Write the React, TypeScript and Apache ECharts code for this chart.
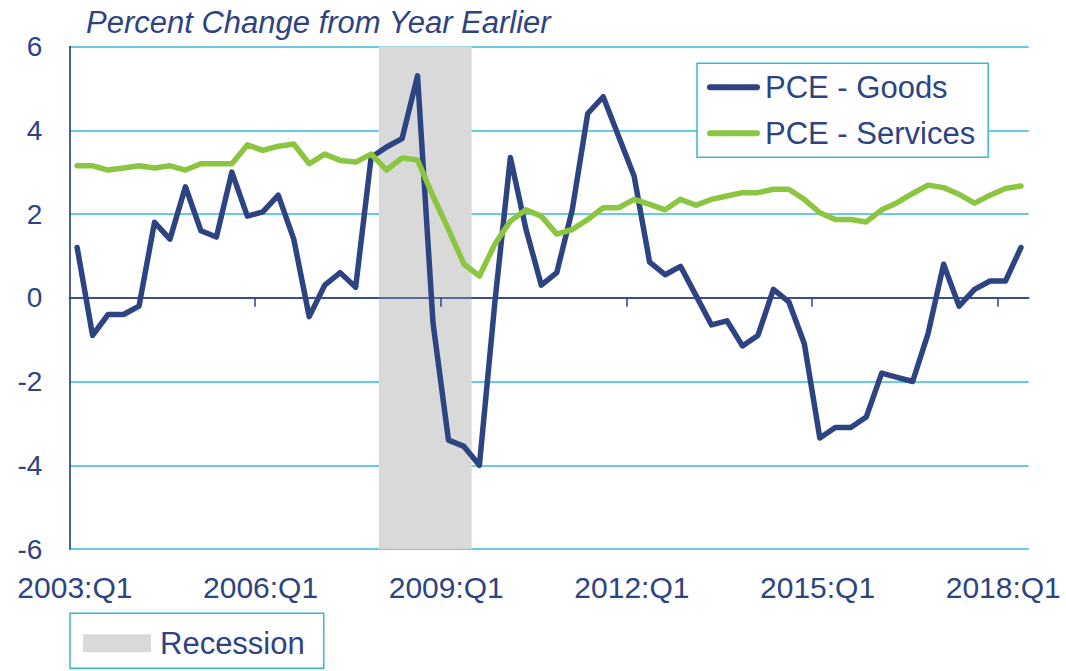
import React, { useEffect, useRef } from "react";
import * as echarts from "echarts";

// ---- Data ----
const quarterLabels: string[] = [];
for (let y = 2003; y <= 2018; y++) {
  for (let q = 1; q <= 4; q++) quarterLabels.push(`${y}:Q${q}`);
}
quarterLabels.length = 62; // 2003:Q1 .. 2018:Q2

const tickLabels = ["2003:Q1", "2006:Q1", "2009:Q1", "2012:Q1", "2015:Q1", "2018:Q1"];

const goodsValues = [
  1.2, -0.9, -0.4, -0.4, -0.2, 1.8, 1.4, 2.65, 1.6, 1.45,
  3.0, 1.95, 2.05, 2.45, 1.4, -0.45, 0.3, 0.6, 0.25, 3.35,
  3.6, 3.8, 5.3, -0.6, -3.4, -3.55, -4.0, -0.1, 3.35, 1.65,
  0.3, 0.6, 2.1, 4.4, 4.8, 3.85, 2.9, 0.85, 0.55, 0.75,
  0.05, -0.65, -0.55, -1.15, -0.9, 0.2, -0.1, -1.1, -3.35, -3.1,
  -3.1, -2.85, -1.8, -1.9, -2.0, -0.85, 0.8, -0.2, 0.2, 0.4,
  0.4, 1.2,
];

const servicesValues = [
  3.15, 3.15, 3.05, 3.1, 3.15, 3.1, 3.15, 3.05, 3.2, 3.2,
  3.2, 3.65, 3.52, 3.62, 3.67, 3.2, 3.43, 3.28, 3.24, 3.43,
  3.05, 3.34, 3.29, 2.43, 1.63, 0.8, 0.52, 1.28, 1.83, 2.1,
  1.95, 1.52, 1.63, 1.87, 2.15, 2.15, 2.35, 2.23, 2.1, 2.35,
  2.21, 2.35, 2.43, 2.51, 2.51, 2.59, 2.59, 2.35, 2.03, 1.87,
  1.87, 1.81, 2.1, 2.27, 2.49, 2.69, 2.63, 2.47, 2.26, 2.45,
  2.61, 2.67,
];

const recessionStart = "2008:Q1";
const recessionEnd = "2009:Q2";

const seriesNames = ["PCE - Goods", "PCE - Services", "Recession"];
const yTicks = [-6, -4, -2, 0, 2, 4, 6];

// ---- Styles ----
const NAVY = "#2E4482";
const GREEN = "#8CC540";
const TEAL = "#38B8D8";
const GRAY = "#D9D9D9";
const FONT = "'Liberation Sans', Arial, sans-serif";

export default function App() {
  const ref = useRef<HTMLDivElement>(null);

  useEffect(() => {
    if (!ref.current) return;
    const chart = echarts.init(ref.current, undefined, { renderer: "svg" });
    const n = quarterLabels.length;
    const tickPos = tickLabels.map((l) => quarterLabels.indexOf(l));
    const recStart = quarterLabels.indexOf(recessionStart);
    const recEnd = quarterLabels.indexOf(recessionEnd) + 1;

    const toPoints = (vals: number[]) => vals.map((v, i) => [i + 0.5, v]);

    const capsule = "path://M3,0H50A3,3,0,0,1,50,6H3A3,3,0,0,1,3,0Z";

    chart.setOption({
      animation: false,
      textStyle: { fontFamily: FONT },
      title: {
        text: "Percent Change from Year Earlier",
        left: 86,
        top: 7,
        padding: 0,
        textStyle: {
          fontSize: 31,
          fontStyle: "italic",
          fontWeight: "normal",
          color: NAVY,
          fontFamily: FONT,
        },
      },
      grid: { left: 69.4, top: 46.5, width: 959.3, height: 502.5, containLabel: false },
      xAxis: [
        {
          type: "value",
          position: "bottom",
          min: 0,
          max: n,
          interval: 12,
          axisLine: { show: false, onZero: false },
          axisTick: { show: false },
          splitLine: { show: false },
          axisLabel: {
            customValues: tickPos,
            formatter: (v: number) => (tickPos.includes(v) ? quarterLabels[v] : ""),
            fontSize: 30,
            color: NAVY,
            margin: 23.5,
            padding: [0, 0, 0, 11],
            fontFamily: FONT,
          },
        },
        {
          type: "value",
          position: "bottom",
          min: 0,
          max: n,
          interval: 12,
          z: 2,
          axisLine: { show: true, onZero: true, lineStyle: { color: NAVY, width: 1.7 } },
          axisTick: {
            show: true,
            customValues: tickPos.filter((p) => p > 0),
            length: 9,
            lineStyle: { color: NAVY, width: 1.5 },
          },
          axisLabel: { show: false },
          splitLine: { show: false },
        },
      ],
      yAxis: {
        type: "value",
        min: yTicks[0],
        max: yTicks[yTicks.length - 1],
        interval: 2,
        axisLine: { show: true, lineStyle: { color: NAVY, width: 1.7 } },
        axisTick: { show: false },
        splitLine: {
          show: true,
          lineStyle: {
            color: yTicks.map((t) => (t === 0 ? NAVY : TEAL)),
            width: 1.5,
          },
        },
        axisLabel: { fontSize: 28, color: NAVY, margin: 27, fontFamily: FONT },
      },
      legend: [
        {
          data: [
            { name: seriesNames[0], icon: capsule },
            { name: seriesNames[1], icon: capsule },
          ],
          orient: "vertical",
          left: 697,
          top: 63.3,
          itemWidth: 53,
          itemHeight: 6,
          itemGap: 10,
          padding: [6, 13, 6, 10],
          borderColor: TEAL,
          borderWidth: 1.5,
          backgroundColor: "#ffffff",
          selectedMode: false,
          textStyle: { fontSize: 31, color: NAVY, lineHeight: 36, fontFamily: FONT },
        },
        {
          data: [{ name: seriesNames[2], icon: "rect", itemStyle: { color: GRAY } }],
          orient: "vertical",
          left: 70,
          top: 613.3,
          itemWidth: 68,
          itemHeight: 18,
          padding: [12, 19, 7, 13],
          borderColor: TEAL,
          borderWidth: 1.5,
          backgroundColor: "#ffffff",
          selectedMode: false,
          textStyle: {
            fontSize: 31,
            color: NAVY,
            lineHeight: 36,
            padding: [0, 0, 0, 4],
            fontFamily: FONT,
          },
        },
      ],
      series: [
        {
          name: seriesNames[2],
          type: "line",
          xAxisIndex: 0,
          data: [],
          color: GRAY,
          z: 1,
          silent: true,
          markArea: {
            silent: true,
            itemStyle: { color: GRAY },
            data: [[{ xAxis: recStart }, { xAxis: recEnd }]],
          },
        },
        {
          name: seriesNames[0],
          type: "line",
          xAxisIndex: 0,
          data: toPoints(goodsValues),
          showSymbol: false,
          color: NAVY,
          z: 3,
          lineStyle: { width: 5.5, color: NAVY, cap: "round", join: "round" },
        },
        {
          name: seriesNames[1],
          type: "line",
          xAxisIndex: 0,
          data: toPoints(servicesValues),
          showSymbol: false,
          color: GREEN,
          z: 3,
          lineStyle: { width: 5.5, color: GREEN, cap: "round", join: "round" },
        },
      ],
    });

    return () => chart.dispose();
  }, []);

  return (
    <div
      ref={ref}
      style={{ position: "fixed", left: 0, top: 0, width: 1066, height: 671, background: "#fff" }}
    />
  );
}
